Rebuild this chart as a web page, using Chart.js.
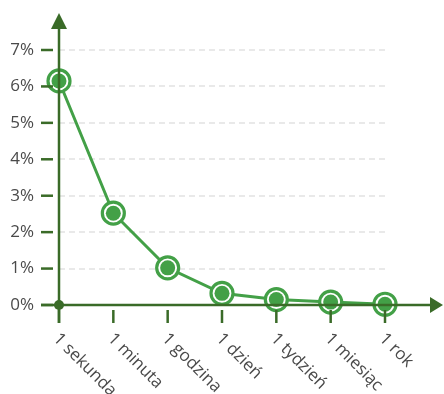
<!DOCTYPE html>
<html>
<head>
<meta charset="utf-8">
<script src="https://cdn.jsdelivr.net/npm/chart.js@4"></script>
<style>
  html, body { margin: 0; padding: 0; background: #fff; }
  #wrap { width: 444px; height: 394px; }
</style>
</head>
<body>
<div id="wrap"><canvas id="chart" width="444" height="394"></canvas></div>
<script>
// data
let categories = ["1 sekunda", "1 minuta", "1 godzina", "1 dzień", "1 tydzień", "1 miesiąc", "1 rok"];
let shares = [6.15, 2.52, 1.02, 0.32, 0.15, 0.08, 0.02];
let yTickValues = [0, 1, 2, 3, 4, 5, 6, 7];

let green = "#43a047";
let axisGreen = "#3a6b28";
let textColor = "#4a4a4a";
let fontFamily = "'Open Sans', sans-serif";

// axes with arrows, tick marks and rotated category labels
let axesPlugin = {
    id: "axes",
    afterDatasetsDraw(chart) {
        let ctx = chart.ctx;
        let x = chart.scales.x;
        let y = chart.scales.y;
        let x0 = x.getPixelForValue(0);
        let y0 = y.getPixelForValue(0);

        ctx.save();
        ctx.strokeStyle = axisGreen;
        ctx.fillStyle = axisGreen;
        ctx.lineWidth = 2.5;

        // y axis
        ctx.beginPath();
        ctx.moveTo(x0, 20);
        ctx.lineTo(x0, y0 + 18);
        ctx.stroke();
        ctx.beginPath();
        ctx.moveTo(x0, 13);
        ctx.lineTo(x0 - 8, 29);
        ctx.lineTo(x0 + 8, 29);
        ctx.closePath();
        ctx.fill();

        // x axis
        ctx.beginPath();
        ctx.moveTo(x0 - 18, y0);
        ctx.lineTo(436, y0);
        ctx.stroke();
        ctx.beginPath();
        ctx.moveTo(443, y0);
        ctx.lineTo(430, y0 - 8);
        ctx.lineTo(430, y0 + 8);
        ctx.closePath();
        ctx.fill();

        // y tick marks
        yTickValues.forEach(v => {
            let py = y.getPixelForValue(v);
            ctx.beginPath();
            ctx.moveTo(x0 - 18, py);
            ctx.lineTo(x0 - 6, py);
            ctx.stroke();
        });

        // x tick marks and labels
        categories.forEach((label, i) => {
            let px = x.getPixelForValue(i);
            ctx.strokeStyle = axisGreen;
            ctx.beginPath();
            ctx.moveTo(px, y0 + 5);
            ctx.lineTo(px, y0 + 18);
            ctx.stroke();

            ctx.save();
            ctx.translate(px - 3, y0 + 31);
            ctx.rotate(Math.PI / 4);
            ctx.fillStyle = textColor;
            ctx.font = "17px " + fontFamily;
            ctx.textAlign = "left";
            ctx.textBaseline = "middle";
            ctx.fillText(label, 0, 0);
            ctx.restore();
        });

        // origin dot
        ctx.beginPath();
        ctx.arc(x0, y0, 5, 0, Math.PI * 2);
        ctx.fill();
        ctx.restore();
    }
};

new Chart(document.getElementById("chart").getContext("2d"), {
    type: "line",
    data: {
        labels: categories,
        datasets: [
            {
                data: shares,
                borderColor: green,
                borderWidth: 3,
                pointRadius: 7.5,
                pointBackgroundColor: green,
                pointBorderWidth: 0,
                showLine: false,
                clip: false,
                order: 0
            },
            {
                data: shares,
                borderColor: green,
                borderWidth: 3,
                tension: 0,
                pointRadius: 11,
                pointBackgroundColor: "#fff",
                pointBorderColor: green,
                pointBorderWidth: 3.2,
                clip: false,
                order: 1
            }
        ]
    },
    options: {
        responsive: false,
        animation: false,
        events: [],
        layout: { padding: { top: 50, right: 59, bottom: 89, left: 0 } },
        plugins: { legend: { display: false }, tooltip: { enabled: false } },
        scales: {
            x: {
                offset: false,
                afterFit(scale) { scale.height = 0; },
                grid: { display: false },
                border: { display: false },
                ticks: { display: false }
            },
            y: {
                min: 0,
                max: 7,
                afterFit(scale) { scale.width = 59; },
                afterBuildTicks(scale) { scale.ticks = yTickValues.map(v => ({ value: v })); },
                grid: { color: "#e9e9e9", lineWidth: 2, drawTicks: false },
                border: { display: false, dash: [6, 4] },
                ticks: {
                    padding: 25,
                    color: textColor,
                    font: { family: fontFamily, size: 17 },
                    callback: v => v + "%"
                }
            }
        }
    },
    plugins: [axesPlugin]
});
</script>
</body>
</html>
